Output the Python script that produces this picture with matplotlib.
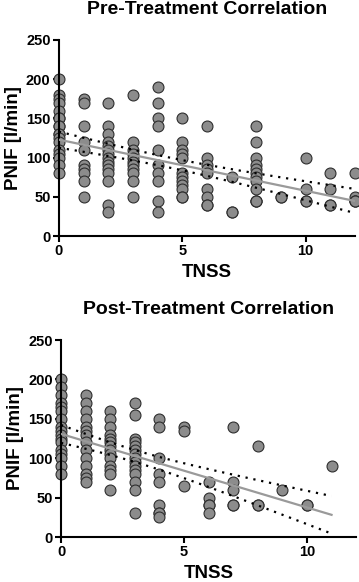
import numpy as np
import matplotlib
matplotlib.use("Agg")
import matplotlib.pyplot as plt

# PNIF values read per TNSS score, pre-treatment
# (values are rounded to 10 l/min so many circles sit on top of each other)
pre_tnss = [0, 1, 2, 3, 4, 5, 6, 7, 8, 9, 10, 11, 12]
pre_pnif = [
    [200, 180, 175, 170, 160, 150, 150, 140, 140, 130, 130, 125, 120, 110, 105, 100, 90, 80],
    [175, 170, 140, 120, 110, 90, 85, 80, 70, 50],
    [170, 140, 130, 120, 115, 110, 105, 100, 95, 90, 85, 80, 70, 40, 30],
    [180, 120, 110, 105, 100, 95, 90, 85, 80, 70, 50],
    [190, 170, 150, 140, 110, 90, 80, 70, 45, 30],
    [150, 120, 110, 105, 100, 80, 75, 70, 65, 60, 50, 50],
    [140, 100, 90, 85, 80, 60, 50, 40, 40],
    [75, 30, 30],
    [140, 120, 100, 90, 85, 80, 75, 70, 60, 45, 45, 45],
    [50, 50],
    [100, 60, 45, 45],
    [80, 60, 40, 40],
    [80, 50, 45, 45, 45],
]

# post-treatment
post_tnss = [0, 1, 2, 3, 4, 5, 6, 7, 8, 9, 10, 11]
post_pnif = [
    [200, 190, 180, 170, 165, 160, 150, 140, 135, 130, 125, 120, 110, 105, 100, 90, 80],
    [180, 170, 160, 150, 140, 135, 130, 120, 110, 100, 90, 80, 75, 70],
    [160, 150, 140, 130, 125, 120, 115, 110, 105, 100, 90, 85, 80, 60],
    [170, 155, 125, 120, 115, 110, 105, 100, 95, 90, 85, 80, 70, 60, 30],
    [150, 140, 100, 80, 70, 40, 30, 30, 25],
    [140, 135, 65],
    [70, 50, 40, 40, 30],
    [140, 70, 60, 40, 40],
    [115, 40, 40],
    [60],
    [40, 40],
    [90],
]

T_CRIT = 1.98  # two sided 95%, df ~ 100

plt.rcParams['font.family'] = ['Liberation Sans', 'DejaVu Sans']
plt.rcParams['font.weight'] = 'bold'


def flatten(xs, groups):
    x = []
    y = []
    for xi, g in zip(xs, groups):
        x += [xi] * len(g)
        y += g
    return np.array(x, float), np.array(y, float)


def draw_panel(ax, xs, groups, title):
    x, y = flatten(xs, groups)
    slope, icpt = np.polyfit(x, y, 1)
    n = len(x)
    resid = y - (slope * x + icpt)
    s = np.sqrt(np.sum(resid ** 2) / (n - 2))
    sxx = np.sum((x - x.mean()) ** 2)
    xf = np.linspace(x.min(), x.max(), 100)
    yf = slope * xf + icpt
    half = T_CRIT * s * np.sqrt(1.0 / n + (xf - x.mean()) ** 2 / sxx)

    ax.scatter(x, y, s=62, facecolor="#8c8c8c", edgecolor="#2e2e2e",
               linewidth=0.8, zorder=2, clip_on=False)
    ax.plot(xf, yf, color="#9a9a9a", lw=1.6, zorder=3)
    ax.plot(xf, yf + half, color="black", lw=1.6, ls=(0, (1, 2.6)), zorder=3)
    ax.plot(xf, yf - half, color="black", lw=1.6, ls=(0, (1, 2.6)), zorder=3)

    ax.set_xlim(0, 12)
    ax.set_ylim(0, 250)
    ax.set_xticks([0, 5, 10])
    ax.set_yticks([0, 50, 100, 150, 200, 250])
    for sp in ["top", "right"]:
        ax.spines[sp].set_visible(False)
    for sp in ["left", "bottom"]:
        ax.spines[sp].set_linewidth(1.5)
    ax.tick_params(width=1.5, length=4, labelsize=10.5, pad=2)
    for lab in ax.get_xticklabels() + ax.get_yticklabels():
        lab.set_fontweight("bold")
    ax.set_xlabel("TNSS", fontsize=13.5, fontweight="bold", labelpad=4)
    ax.set_ylabel("PNIF [l/min]", fontsize=13.5, fontweight="bold", labelpad=3)
    ax.set_title(title, fontsize=14, fontweight="bold", pad=19)


fig = plt.figure(figsize=(3.59, 5.82), dpi=100)
ax1 = fig.add_axes([0.164, 0.5945, 0.825, 0.3368])
ax2 = fig.add_axes([0.170, 0.0773, 0.822, 0.3385])

draw_panel(ax1, pre_tnss, pre_pnif, "Pre-Treatment Correlation")
draw_panel(ax2, post_tnss, post_pnif, "Post-Treatment Correlation")

fig.savefig("out.png", dpi=100)
